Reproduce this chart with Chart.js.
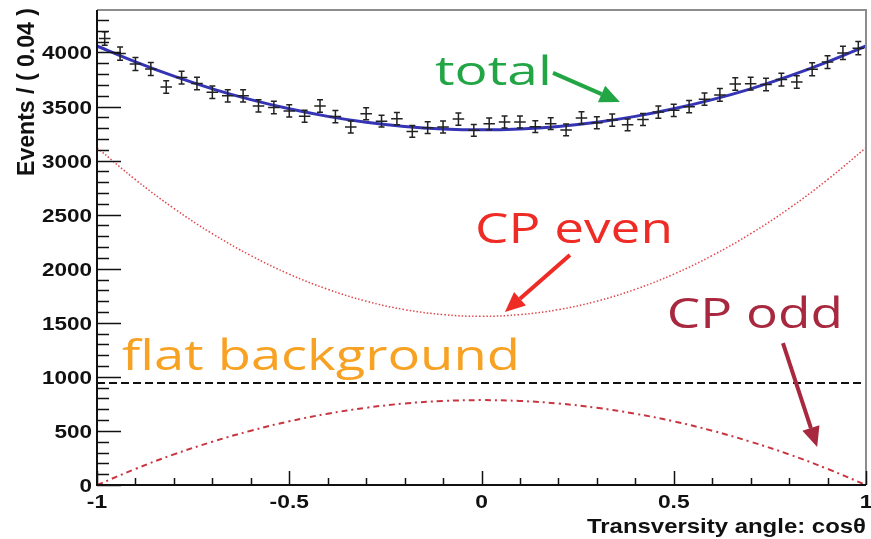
<!DOCTYPE html>
<html>
<head>
<meta charset="utf-8">
<script src="https://cdn.jsdelivr.net/npm/chart.js@4.4.1/dist/chart.umd.min.js"></script>
<style>
  html, body { margin: 0; padding: 0; background: #fff; }
</style>
</head>
<body>
<canvas id="myChart" width="871" height="539"></canvas>
<script>
// measured histogram, bins of 0.04
var binX = [-0.98,-0.94,-0.90,-0.86,-0.82,-0.78,-0.74,-0.70,-0.66,-0.62,
            -0.58,-0.54,-0.50,-0.46,-0.42,-0.38,-0.34,-0.30,-0.26,-0.22,
            -0.18,-0.14,-0.10,-0.06,-0.02, 0.02, 0.06, 0.10, 0.14, 0.18,
             0.22, 0.26, 0.30, 0.34, 0.38, 0.42, 0.46, 0.50, 0.54, 0.58,
             0.62, 0.66, 0.70, 0.74, 0.78, 0.82, 0.86, 0.90, 0.94, 0.98];
var events = [4130,3990,3893,3847,3680,3768,3713,3632,3599,3599,
              3506,3491,3460,3410,3505,3407,3311,3434,3365,3388,
              3270,3305,3311,3384,3280,3340,3357,3357,3314,3342,
              3284,3395,3350,3375,3331,3380,3449,3465,3499,3568,
              3608,3708,3712,3704,3750,3727,3845,3911,3996,4040];
var errors = [62,61,60,60,58,59,58,58,57,57,
              57,57,56,56,57,56,55,56,55,56,
              55,55,55,56,55,55,56,56,55,55,
              55,56,55,56,55,56,56,56,57,57,
              58,58,58,58,59,58,60,60,61,61];

// fit components, read every 0.1 in cos(theta)
var curveX   = [-1,-0.9,-0.8,-0.7,-0.6,-0.5,-0.4,-0.3,-0.2,-0.1,0,0.1,0.2,0.3,0.4,0.5,0.6,0.7,0.8,0.9,1];
var totalFit = [4060,3913,3781,3664,3564,3479,3409,3354,3316,3293,3285,3293,3316,3354,3409,3479,3564,3664,3781,3913,4060];
var cpEven   = [3120,2824,2558,2324,2122,1950,1810,1700,1622,1576,1560,1576,1622,1700,1810,1950,2122,2324,2558,2824,3120];
var cpOdd    = [0,149,283,400,502,589,659,714,754,777,785,777,754,714,659,589,502,400,283,149,0];
var flatX    = [-1, 1];
var flatBkg  = [943, 943];

var xTicks = [-1, -0.5, 0, 0.5, 1];
var xTickLabels = ['-1', '-0.5', '0', '0.5', '1'];
var yTicks = [0, 500, 1000, 1500, 2000, 2500, 3000, 3500, 4000];

var labels = [
  { text: 'total',           x0: -0.121, x1: 0.183, y: 3700, size: 40, color: '#22a544' },
  { text: 'CP even',         x0: -0.017, x1: 0.498, y: 2238, size: 42, color: '#ee2c25' },
  { text: 'CP odd',          x0: 0.482,  x1: 0.940, y: 1452, size: 42, color: '#a8293f' },
  { text: 'flat background', x0: -0.935, x1: 0.100, y: 1064, size: 42, color: '#f7a222' }
];
var arrows = [
  { from: [0.186, 3811], to: [0.360, 3542], color: '#22a544' },
  { from: [0.230, 2127], to: [0.061, 1600], color: '#ee2c25' },
  { from: [0.784, 1313], to: [0.873, 351],  color: '#a8293f' }
];

function pts(xs, ys) {
  return xs.map(function (x, i) { return { x: x, y: ys[i] }; });
}

function stretchText(ctx, txt, left, baseline, width, font, color) {
  ctx.save();
  ctx.font = font;
  ctx.fillStyle = color;
  ctx.textBaseline = 'alphabetic';
  ctx.textAlign = 'left';
  var w = ctx.measureText(txt).width;
  ctx.translate(left, baseline);
  ctx.scale(width / w, 1);
  ctx.fillText(txt, 0, 0);
  ctx.restore();
}

var errorBars = {
  id: 'errorBars',
  afterDatasetsDraw: function (chart) {
    var ctx = chart.ctx, xs = chart.scales.x, ys = chart.scales.y, a = chart.chartArea;
    ctx.save();
    ctx.beginPath();
    ctx.rect(a.left, a.top, a.right - a.left, a.bottom - a.top);
    ctx.clip();
    ctx.strokeStyle = '#222';
    ctx.lineWidth = 1.5;
    binX.forEach(function (x, i) {
      var px = xs.getPixelForValue(x);
      var py = ys.getPixelForValue(events[i]);
      var lo = ys.getPixelForValue(events[i] - errors[i]);
      var hi = ys.getPixelForValue(events[i] + errors[i]);
      var l = xs.getPixelForValue(x - 0.015), r = xs.getPixelForValue(x + 0.015);
      ctx.beginPath();
      ctx.moveTo(l, py); ctx.lineTo(r, py);
      ctx.moveTo(px, lo); ctx.lineTo(px, hi);
      ctx.moveTo(px - 3, lo); ctx.lineTo(px + 3, lo);
      ctx.moveTo(px - 3, hi); ctx.lineTo(px + 3, hi);
      ctx.stroke();
    });
    ctx.restore();
  }
};

var frameAndText = {
  id: 'frameAndText',
  afterDraw: function (chart) {
    var ctx = chart.ctx, xs = chart.scales.x, ys = chart.scales.y, a = chart.chartArea;
    ctx.save();

    // top / right border (grey), axes (black)
    ctx.lineWidth = 2;
    ctx.strokeStyle = '#8c8c8c';
    ctx.beginPath();
    ctx.moveTo(a.left, a.top); ctx.lineTo(a.right, a.top); ctx.lineTo(a.right, a.bottom);
    ctx.stroke();
    ctx.strokeStyle = '#111';
    ctx.beginPath();
    ctx.moveTo(a.left, a.top); ctx.lineTo(a.left, a.bottom); ctx.lineTo(a.right, a.bottom);
    ctx.stroke();

    // inward ticks
    ctx.lineWidth = 1.5;
    ctx.beginPath();
    for (var v = 0; v <= ys.max; v += 100) {
      var py = Math.round(ys.getPixelForValue(v)) + 0.5;
      var len = (v % 500 === 0) ? 24 : 12;
      ctx.moveTo(a.left, py); ctx.lineTo(a.left + len, py);
    }
    for (var k = -10; k <= 10; k++) {
      var px = Math.round(xs.getPixelForValue(k / 10)) + 0.5;
      var l2 = (k % 5 === 0) ? 14 : 7;
      ctx.moveTo(px, a.bottom); ctx.lineTo(px, a.bottom - l2);
    }
    ctx.stroke();

    // tick labels
    var tf = 'bold 18px "Liberation Sans", Arial, sans-serif';
    ctx.font = tf;
    yTicks.forEach(function (t) {
      var s = String(t);
      var w = ctx.measureText(s).width * 1.25;
      stretchText(ctx, s, a.left - 5 - w, ys.getPixelForValue(t) + 7, w, tf, '#111');
    });
    var xf = 'bold 19px "Liberation Sans", Arial, sans-serif';
    xTicks.forEach(function (t, i) {
      var s = xTickLabels[i];
      ctx.font = xf;
      var w = ctx.measureText(s).width * 1.2;
      stretchText(ctx, s, xs.getPixelForValue(t) - w / 2, a.bottom + 23, w, xf, '#111');
    });

    // axis titles
    var titleFont = 'bold 21px "Liberation Sans", Arial, sans-serif';
    stretchText(ctx, 'Transversity angle: cos\u03b8', a.right - 279, 533, 279, titleFont, '#111');
    ctx.save();
    ctx.translate(34, 8);
    ctx.rotate(-Math.PI / 2);
    stretchText(ctx, 'Events / ( 0.04 )', -168, 0, 168, 'bold 23px "Liberation Sans", Arial, sans-serif', '#111');
    ctx.restore();

    // annotations
    labels.forEach(function (lb) {
      var x0 = xs.getPixelForValue(lb.x0), x1 = xs.getPixelForValue(lb.x1);
      stretchText(ctx, lb.text, x0, ys.getPixelForValue(lb.y), x1 - x0,
                  lb.size + 'px "Open Sans", "Noto Sans", sans-serif', lb.color);
    });
    arrows.forEach(function (ar) {
      var x0 = xs.getPixelForValue(ar.from[0]), y0 = ys.getPixelForValue(ar.from[1]);
      var x1 = xs.getPixelForValue(ar.to[0]),   y1 = ys.getPixelForValue(ar.to[1]);
      var ang = Math.atan2(y1 - y0, x1 - x0);
      var hl = 20, hw = 9;
      var bx = x1 - hl * Math.cos(ang), by = y1 - hl * Math.sin(ang);
      ctx.strokeStyle = ar.color; ctx.fillStyle = ar.color;
      ctx.lineWidth = 4;
      ctx.beginPath(); ctx.moveTo(x0, y0); ctx.lineTo(bx, by); ctx.stroke();
      ctx.beginPath();
      ctx.moveTo(x1, y1);
      ctx.lineTo(bx + hw * Math.sin(ang), by - hw * Math.cos(ang));
      ctx.lineTo(bx - hw * Math.sin(ang), by + hw * Math.cos(ang));
      ctx.closePath(); ctx.fill();
    });
    ctx.restore();
  }
};

var myChart = new Chart(document.getElementById('myChart'), {
  type: 'scatter',
  data: {
    datasets: [
      { label: 'data', data: pts(binX, events), pointRadius: 0, showLine: false },
      { label: 'flat background', data: pts(flatX, flatBkg), showLine: true, pointRadius: 0,
        borderColor: '#111', borderWidth: 2, borderDash: [8, 4] },
      { label: 'CP odd', data: pts(curveX, cpOdd), showLine: true, pointRadius: 0, tension: 0.4,
        borderColor: '#c8343f', borderWidth: 2, borderDash: [6, 4, 2, 4] },
      { label: 'CP even', data: pts(curveX, cpEven), showLine: true, pointRadius: 0, tension: 0.4,
        borderColor: '#e0464a', borderWidth: 1.5, borderDash: [1.5, 2] },
      { label: 'total', data: pts(curveX, totalFit), showLine: true, pointRadius: 0, tension: 0.4,
        borderColor: '#3434b4', borderWidth: 3 }
    ]
  },
  options: {
    responsive: false,
    animation: false,
    layout: { padding: { top: 10, right: 5, left: 0, bottom: 0 } },
    plugins: { legend: { display: false }, tooltip: { enabled: false } },
    scales: {
      x: { type: 'linear', min: -1, max: 1,
           grid: { display: false }, border: { display: false },
           ticks: { display: false, stepSize: 0.5 },
           afterFit: function (s) { s.height = 54; } },
      y: { type: 'linear', min: 0, max: 4393,
           grid: { display: false }, border: { display: false },
           ticks: { display: false, stepSize: 500 },
           afterFit: function (s) { s.width = 97; } }
    }
  },
  plugins: [errorBars, frameAndText]
});
</script>
</body>
</html>
